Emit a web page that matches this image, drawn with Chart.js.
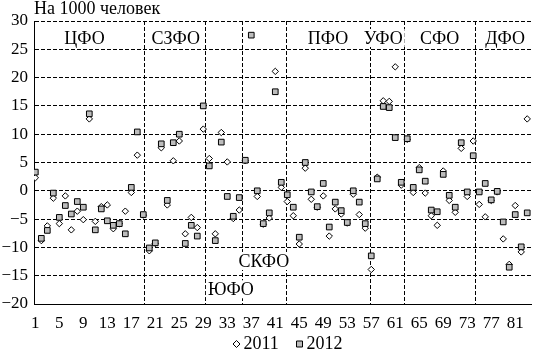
<!DOCTYPE html>
<html lang="ru">
<head>
<meta charset="UTF-8">
<title>Миграционный прирост по регионам</title>
<script src="https://cdn.jsdelivr.net/npm/chart.js"></script>
<style>
  body { margin: 0; background: #fff; }
  .wrap { width: 536px; height: 351px; }
</style>
</head>
<body>
<div class="wrap"><canvas id="chart" width="536" height="351"></canvas></div>
<script>
// номера регионов (по порядку внутри округов)
const regions = [1, 2, 3, 4, 5, 6, 7, 8, 9, 10, 11, 12, 13, 14, 15, 16, 17, 18, 19, 20,
  21, 22, 23, 24, 25, 26, 27, 28, 29, 30, 31, 32, 33, 34, 35, 36, 37, 38, 39, 40,
  41, 42, 43, 44, 45, 46, 47, 48, 49, 50, 51, 52, 53, 54, 55, 56, 57, 58, 59, 60,
  61, 62, 63, 64, 65, 66, 67, 68, 69, 70, 71, 72, 73, 74, 75, 76, 77, 78, 79, 80,
  81, 82, 83];

// на 1000 человек
const rate2011 = [2.3, -8.8, -6.2, -1.3, -5.8, -0.9, -6.9, -3.6, -5.1, 12.7,
  -5.4, -2.8, -2.5, -6.7, -5.8, -3.6, -0.3, 6.3, -4.3, -10.6,
  -9.3, 7.6, -2.5, 5.3, 8.8, -7.6, -4.7, -6.5, 10.9, 5.7,
  -7.6, 10.3, 5.1, -4.9, -3.4, 5.3, null, -1.0, -5.9, -4.8,
  21.1, 0.6, -1.9, -4.4, -9.4, 4.0, -1.5, -2.9, -0.9, -8.0,
  -3.2, -4.1, -5.7, -0.6, -4.2, -6.6, -13.9, 2.4, 15.9, 15.8,
  21.9, 1.0, 9.1, -0.3, 4.1, -0.4, -4.4, -6.1, 3.5, -1.7,
  -3.8, 7.5, -1.0, 8.8, -2.4, -4.6, -1.7, -0.2, -8.5, -13.0,
  -2.6, -10.8, 12.7];

const rate2012 = [3.3, -8.4, -7.0, -0.4, -4.7, -2.6, -4.1, -1.9, -2.9, 13.6,
  -6.9, -3.2, -5.3, -6.1, -5.8, -7.6, 0.6, 10.4, -4.2, -10.1,
  -9.2, 8.3, -1.7, 8.5, 10.0, -9.3, -6.1, -8.0, 15.0, 4.4,
  -8.8, 8.6, -1.0, -4.5, -1.2, 5.4, 27.5, 0.0, -5.8, -3.9,
  17.5, 1.5, -0.7, -2.9, -8.2, 5.0, -0.2, -2.8, 1.3, -6.4,
  -2.0, -3.5, -5.6, 0.0, -2.0, -5.8, -11.5, 2.1, 14.9, 14.7,
  9.4, 1.5, 9.2, 0.6, 3.7, 1.7, -3.4, -3.7, 2.9, -0.8,
  -2.9, 8.5, -0.2, 6.2, -0.2, 1.3, -1.6, -0.1, -5.5, -13.5,
  -4.2, -9.9, -3.9];

const xTickValues = [1, 5, 9, 13, 17, 21, 25, 29, 33, 37, 41, 45, 49, 53, 57, 61, 65, 69, 73, 77, 81];

// федеральные округа: границы и подписи
const districtNames = ['ЦФО', 'СЗФО', 'ЮФО', 'СКФО', 'ПФО', 'УФО', 'СФО', 'ДФО'];
const districtEdges = [19.1, 29.3, 35.5, 42.8, 56.8, 62.5, 74.3];
const districtLabelX = [9.2, 24.4, 33.6, 39.1, 49.8, 59.0, 68.4, 79.3];
const districtLabelY = [27, 27, -17.4, -12.4, 27, 27, 27, 27];

const FONT = '"Liberation Serif", "Times New Roman", serif';

const districts = {
  id: 'districts',
  beforeDatasetsDraw(chart) {
    const { ctx, chartArea, scales: { x, y } } = chart;
    ctx.save();
    ctx.strokeStyle = '#000';
    ctx.lineWidth = 1;
    ctx.setLineDash([4, 2]);
    districtEdges.forEach(e => {
      const px = Math.round(x.getPixelForValue(e)) + 0.5;
      ctx.beginPath();
      ctx.moveTo(px, chartArea.top);
      ctx.lineTo(px, chartArea.bottom);
      ctx.stroke();
    });
    ctx.setLineDash([]);
    ctx.font = '18px ' + FONT;
    ctx.textAlign = 'center';
    ctx.textBaseline = 'middle';
    districtNames.forEach((name, i) => {
      const px = x.getPixelForValue(districtLabelX[i]);
      const py = y.getPixelForValue(districtLabelY[i]);
      const w = ctx.measureText(name).width;
      ctx.fillStyle = '#fff';
      ctx.fillRect(px - w / 2 - 2, py - 9, w + 4, 18);
      ctx.fillStyle = '#000';
      ctx.fillText(name, px, py + 1);
    });
    ctx.restore();
  },
  afterDraw(chart) {
    const { ctx, chartArea } = chart;
    ctx.save();
    ctx.font = '18px ' + FONT;
    ctx.fillStyle = '#000';
    ctx.textAlign = 'left';
    ctx.textBaseline = 'middle';
    ctx.fillText('На 1000 человек', chartArea.left, 9);

    // легенда внизу: ромб 2011, квадрат 2012
    ctx.font = '18px ' + FONT;
    const ly = 344;
    const mid = (chartArea.left + chartArea.right) / 2;
    const sets = chart.data.datasets;
    const items = [[sets[1], mid - 46], [sets[0], mid + 17]];
    items.forEach(([d, lx]) => {
      ctx.fillStyle = d.backgroundColor;
      ctx.strokeStyle = d.borderColor;
      ctx.lineWidth = 1;
      ctx.beginPath();
      if (d.pointStyle === 'rectRot') {
        ctx.moveTo(lx, ly - 3.5); ctx.lineTo(lx + 3.5, ly); ctx.lineTo(lx, ly + 3.5); ctx.lineTo(lx - 3.5, ly);
        ctx.closePath();
      } else {
        ctx.rect(lx - 3, ly - 3, 6, 6);
      }
      ctx.fill();
      ctx.stroke();
      ctx.fillStyle = '#000';
      ctx.fillText(d.label, lx + 7, ly);
    });
    ctx.restore();
  }
};

new Chart(document.getElementById('chart'), {
  type: 'scatter',
  data: {
    datasets: [
      {
        label: '2012',
        data: regions.map((r, i) => ({ x: r, y: rate2012[i] })),
        pointStyle: 'rect',
        pointRadius: 4,
        backgroundColor: '#bcbcbc',
        borderColor: '#000',
        borderWidth: 1
      },
      {
        label: '2011',
        data: regions.map((r, i) => ({ x: r, y: rate2011[i] })),
        pointStyle: 'rectRot',
        pointRadius: 3.2,
        backgroundColor: '#fff',
        borderColor: '#000',
        borderWidth: 1
      }
    ]
  },
  options: {
    responsive: false,
    animation: false,
    layout: { padding: { top: 21, right: 0, left: 0, bottom: 0 } },
    plugins: {
      legend: { display: false },
      tooltip: { enabled: false }
    },
    scales: {
      x: {
        type: 'linear',
        min: 0.78,
        max: 83.63,
        afterBuildTicks: s => { s.ticks = xTickValues.map(v => ({ value: v })); },
        afterFit: s => { s.height = 47; },
        grid: { display: false, drawTicks: false },
        border: { color: '#000', width: 1 },
        ticks: {
          autoSkip: false,
          maxRotation: 0,
          padding: 9,
          color: '#000',
          font: { family: FONT, size: 17 }
        }
      },
      y: {
        min: -20,
        max: 30,
        afterFit: s => { s.width = 34; },
        grid: { color: '#000', lineWidth: 1, drawTicks: false },
        border: { color: '#000', width: 1, dash: [4, 2] },
        ticks: {
          stepSize: 5,
          padding: 6,
          color: '#000',
          font: { family: FONT, size: 17 },
          callback: v => v < 0 ? '\u2212' + Math.abs(v) : v
        }
      }
    }
  },
  plugins: [districts]
});
</script>
</body>
</html>
